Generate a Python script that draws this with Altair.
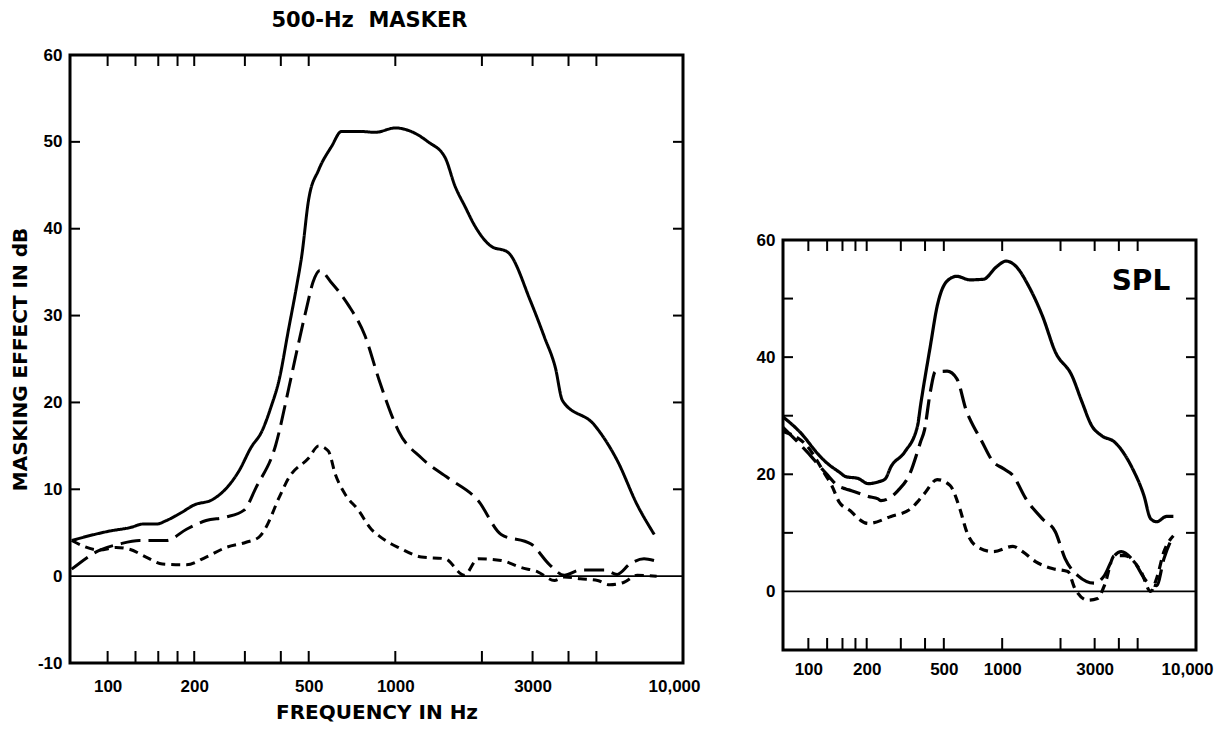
import altair as alt
import pandas as pd

# ---------------- data ----------------
# Left panel: 500-Hz masker, three masker levels
L_solid_f = [75, 90, 102, 120, 133, 148, 160, 180, 200, 231, 260, 286, 315, 344, 370, 394, 426, 454, 473, 500, 542, 601, 650, 750, 853, 1000, 1135, 1300, 1489, 1613, 1750, 1892, 2149, 2460, 2956, 3300, 3600, 3813, 4920, 5911, 6934, 7943]
L_solid_db = [4.1, 4.8, 5.2, 5.6, 6.0, 6.0, 6.4, 7.3, 8.2, 8.8, 10.2, 12.1, 14.8, 16.7, 19.5, 22.5, 28.5, 33.4, 36.9, 43.4, 46.8, 49.5, 51.2, 51.2, 51.1, 51.6, 51.2, 50.0, 48.2, 44.9, 42.5, 40.3, 38.0, 37.3, 31.6, 27.5, 24.0, 20.2, 17.4, 13.3, 8.2, 4.8]

L_long_f = [75, 94, 110, 129, 160, 188, 220, 258, 298, 328, 384, 426, 449, 491, 518, 547, 596, 687, 784, 880, 969, 1026, 1233, 1527, 1939, 2333, 2964, 3440, 3868, 4400, 5320, 5905, 6540, 7320, 7930]
L_long_db = [0.8, 3.0, 3.7, 4.1, 4.1, 5.4, 6.4, 6.8, 7.6, 10.2, 15.1, 21.6, 25.1, 30.8, 33.9, 35.2, 33.9, 31.2, 27.7, 22.5, 18.6, 16.7, 13.6, 11.3, 8.7, 4.8, 3.7, 1.3, 0.1, 0.7, 0.7, 0.2, 1.4, 2.0, 1.8]

L_short_f = [75, 94, 107, 119, 136, 155, 188, 220, 258, 303, 336, 355, 394, 426, 500, 542, 585, 619, 670, 744, 825, 873, 969, 1026, 1233, 1489, 1737, 1939, 2333, 2730, 3125, 3575, 3868, 4400, 5050, 5560, 6240, 6930, 8100]
L_short_db = [4.1, 3.0, 3.3, 3.1, 2.2, 1.4, 1.3, 2.2, 3.3, 3.9, 4.5, 5.6, 9.0, 11.3, 13.6, 15.0, 14.4, 11.7, 9.4, 7.6, 5.4, 4.7, 3.7, 3.3, 2.2, 2.0, 0.1, 2.0, 1.8, 1.0, 0.5, -0.5, -0.1, -0.3, -0.5, -1.0, -0.7, 0.1, 0.0]

# Right panel: SPL
R_solid_f = [74, 90, 114, 123, 144, 156, 180, 204, 229, 249, 267, 314, 366, 379, 426, 462, 520, 584, 680, 801, 933, 1048, 1178, 1371, 1615, 1880, 2293, 2577, 2897, 3258, 3800, 4700, 5383, 5838, 6264, 7046, 7644]
R_solid_db = [29.8, 27.3, 23.2, 22.1, 20.4, 19.6, 19.3, 18.4, 18.7, 19.2, 21.3, 23.8, 28.3, 31.7, 41.9, 48.7, 53.0, 53.8, 53.2, 53.3, 55.4, 56.4, 55.5, 52.1, 47.0, 40.9, 36.8, 32.4, 28.3, 26.6, 25.5, 21.0, 16.4, 12.4, 11.9, 12.8, 12.8]

R_dash_f = [74, 98, 123, 144, 156, 167, 204, 229, 237, 290, 337, 366, 379, 397, 426, 452, 520, 584, 656, 680, 780, 900, 1010, 1136, 1327, 1613, 1880, 2112, 2457, 2998, 3368, 3796, 4118, 4789, 5578, 6264, 6834, 7385, 7644]
R_dash_db = [28.0, 23.9, 20.2, 17.9, 17.5, 17.2, 16.2, 15.8, 15.5, 17.2, 20.4, 23.9, 25.5, 27.5, 34.1, 37.5, 37.6, 36.3, 30.7, 29.5, 25.8, 22.1, 21.0, 19.8, 15.8, 12.4, 10.2, 5.6, 2.7, 1.4, 2.7, 6.1, 6.8, 5.1, 1.7, 1.0, 5.6, 8.5, 9.4]

R_dot_f = [74, 98, 123, 132, 144, 167, 175, 204, 267, 337, 366, 397, 462, 538, 605, 656, 737, 900, 1136, 1275, 1486, 1814, 2183, 2372, 2765, 3106, 3368, 3796, 4270, 5200, 5838, 6264, 6834, 7644]
R_dot_db = [27.3, 24.9, 19.8, 18.1, 15.3, 13.6, 12.9, 11.6, 12.8, 14.1, 15.3, 16.7, 19.1, 18.1, 14.1, 10.2, 7.7, 6.8, 7.7, 6.8, 5.1, 3.9, 3.4, 0.5, -1.5, -1.2, 1.0, 6.1, 6.1, 3.4, 0.0, 2.2, 6.8, 9.5]

# Axes
tick_freqs = [100, 125, 150, 175, 200, 300, 400, 500, 1000, 2000, 3000, 4000, 5000]
x_label_values = [100, 200, 500, 1000, 3000, 10000]
left_y_labels = [-10, 0, 10, 20, 30, 40, 50, 60]
right_y_labels = [0, 20, 40, 60]
y_tick_values = [10, 20, 30, 40, 50]
x_domain = [74, 10000]
y_domain = [-10, 60]

TFONT = "DejaVu Sans"
LFONT = "Liberation Sans"
LW, LH = 613, 608
RW, RH = 413, 410
LABEL_EXPR = "datum.value >= 10000 ? '10,000' : format(datum.value, 'd')"
Y_LABEL_EXPR = "datum.value < 0 ? '-' + format(-datum.value, 'd') : format(datum.value, 'd')"
LAST_SHIFT = {"condition": {"test": "datum.value >= 10000", "value": -9}, "value": 0}


def series_df(pairs):
    rows = []
    for name, fs, ds in pairs:
        for f, d in zip(fs, ds):
            rows.append({"f": f, "db": d, "s": name})
    return pd.DataFrame(rows)


def panel(df, dashes, width, height, y_labels, lw, xtitle, ytitle, xlabpad):
    names = ["high", "mid", "low"]
    xscale = alt.Scale(type="log", domain=x_domain, nice=False)
    yscale = alt.Scale(domain=y_domain, nice=False, zero=False)
    xkw = dict(
        values=x_label_values, labelExpr=LABEL_EXPR, labelOffset=LAST_SHIFT,
        ticks=False, domain=False, grid=False,
        labelFlush=False, labelOverlap=False, labelBound=False,
        labelFont=LFONT, labelFontSize=17, labelFontWeight="bold", labelColor="black",
        labelPadding=xlabpad,
    )
    if xtitle:
        xaxis = alt.Axis(title=xtitle, titleFont=TFONT, titleFontSize=20, titleFontWeight="bold",
                         titleColor="black", titlePadding=8, **xkw)
    else:
        xaxis = alt.Axis(title="", **xkw)
    ykw = dict(
        values=y_labels, labelExpr=Y_LABEL_EXPR, ticks=False, domain=False, grid=False,
        labelFont=LFONT, labelFontSize=17, labelFontWeight="bold", labelColor="black",
        labelPadding=8,
    )
    if ytitle:
        yaxis = alt.Axis(title=ytitle, titleFont=TFONT, titleFontSize=20, titleFontWeight="bold",
                         titleColor="black", titlePadding=7, **ykw)
    else:
        yaxis = alt.Axis(title="", **ykw)

    lines = alt.Chart(df).mark_line(color="black", strokeWidth=lw, interpolate="monotone").encode(
        x=alt.X("f:Q", scale=xscale, axis=xaxis),
        y=alt.Y("db:Q", scale=yscale, axis=yaxis),
        strokeDash=alt.StrokeDash("s:N", scale=alt.Scale(domain=names, range=dashes), legend=None),
    )
    zero = alt.Chart(pd.DataFrame({"z": [0]})).mark_rule(color="black", strokeWidth=1.8).encode(
        y=alt.Y("z:Q", scale=yscale)
    )
    tdf = pd.DataFrame({"f": tick_freqs})
    ticks_bottom = alt.Chart(tdf).mark_rule(color="black", strokeWidth=2).encode(
        x=alt.X("f:Q", scale=xscale), y=alt.value(height), y2=alt.value(height - 12)
    )
    ticks_top = alt.Chart(tdf).mark_rule(color="black", strokeWidth=2).encode(
        x=alt.X("f:Q", scale=xscale), y=alt.value(0), y2=alt.value(11)
    )
    ydf = pd.DataFrame({"v": y_tick_values})
    ticks_left = alt.Chart(ydf).mark_rule(color="black", strokeWidth=2).encode(
        y=alt.Y("v:Q", scale=yscale), x=alt.value(0), x2=alt.value(10)
    )
    ticks_right = alt.Chart(ydf).mark_rule(color="black", strokeWidth=2).encode(
        y=alt.Y("v:Q", scale=yscale), x=alt.value(width), x2=alt.value(width - 10)
    )
    return [lines, zero, ticks_bottom, ticks_top, ticks_left, ticks_right], xscale, yscale


left_df = series_df([("high", L_solid_f, L_solid_db), ("mid", L_long_f, L_long_db), ("low", L_short_f, L_short_db)])
right_df = series_df([("high", R_solid_f, R_solid_db), ("mid", R_dash_f, R_dash_db), ("low", R_dot_f, R_dot_db)])

lp, _, _ = panel(left_df, [[1, 0], [20, 8], [9, 6]], LW, LH, left_y_labels, 3,
                 "FREQUENCY IN Hz", "MASKING EFFECT IN dB", 15)
left = alt.layer(*lp).properties(
    width=LW, height=LH,
    title=alt.TitleParams("500-Hz\u00a0\u00a0MASKER", font=TFONT, fontSize=21, fontWeight="bold", color="black",
                          anchor="middle", frame="group", offset=15, dx=-7),
)

rp, rx, ry = panel(right_df, [[1, 0], [8, 4], [4, 4]], RW, RH, right_y_labels, 3.2, None, None, 11)
spl_label = alt.Chart(pd.DataFrame({"f": [5200], "db": [52.8], "t": ["SPL"]})).mark_text(
    font=TFONT, fontSize=28, fontWeight="bold", color="black", align="center", baseline="middle"
).encode(x=alt.X("f:Q", scale=rx), y=alt.Y("db:Q", scale=ry), text="t:N")
right = alt.layer(*rp, spl_label).properties(width=RW, height=RH)

spacer = alt.Chart(pd.DataFrame({"v": [0]})).mark_point(opacity=0).encode(
    x=alt.X("v:Q", axis=None), y=alt.Y("v:Q", axis=None)
).properties(width=RW, height=185, view=alt.ViewBackground(stroke="transparent"))

right_col = alt.vconcat(spacer, right, spacing=0, bounds="flush")

chart = alt.hconcat(left, right_col, spacing=100, bounds="flush").properties(
    padding={"left": 0, "top": 0, "right": 0, "bottom": 0}, background="white"
).configure_view(stroke="black", strokeWidth=3)

chart.save("out.html", embed_options={"renderer": "svg", "actions": False})
